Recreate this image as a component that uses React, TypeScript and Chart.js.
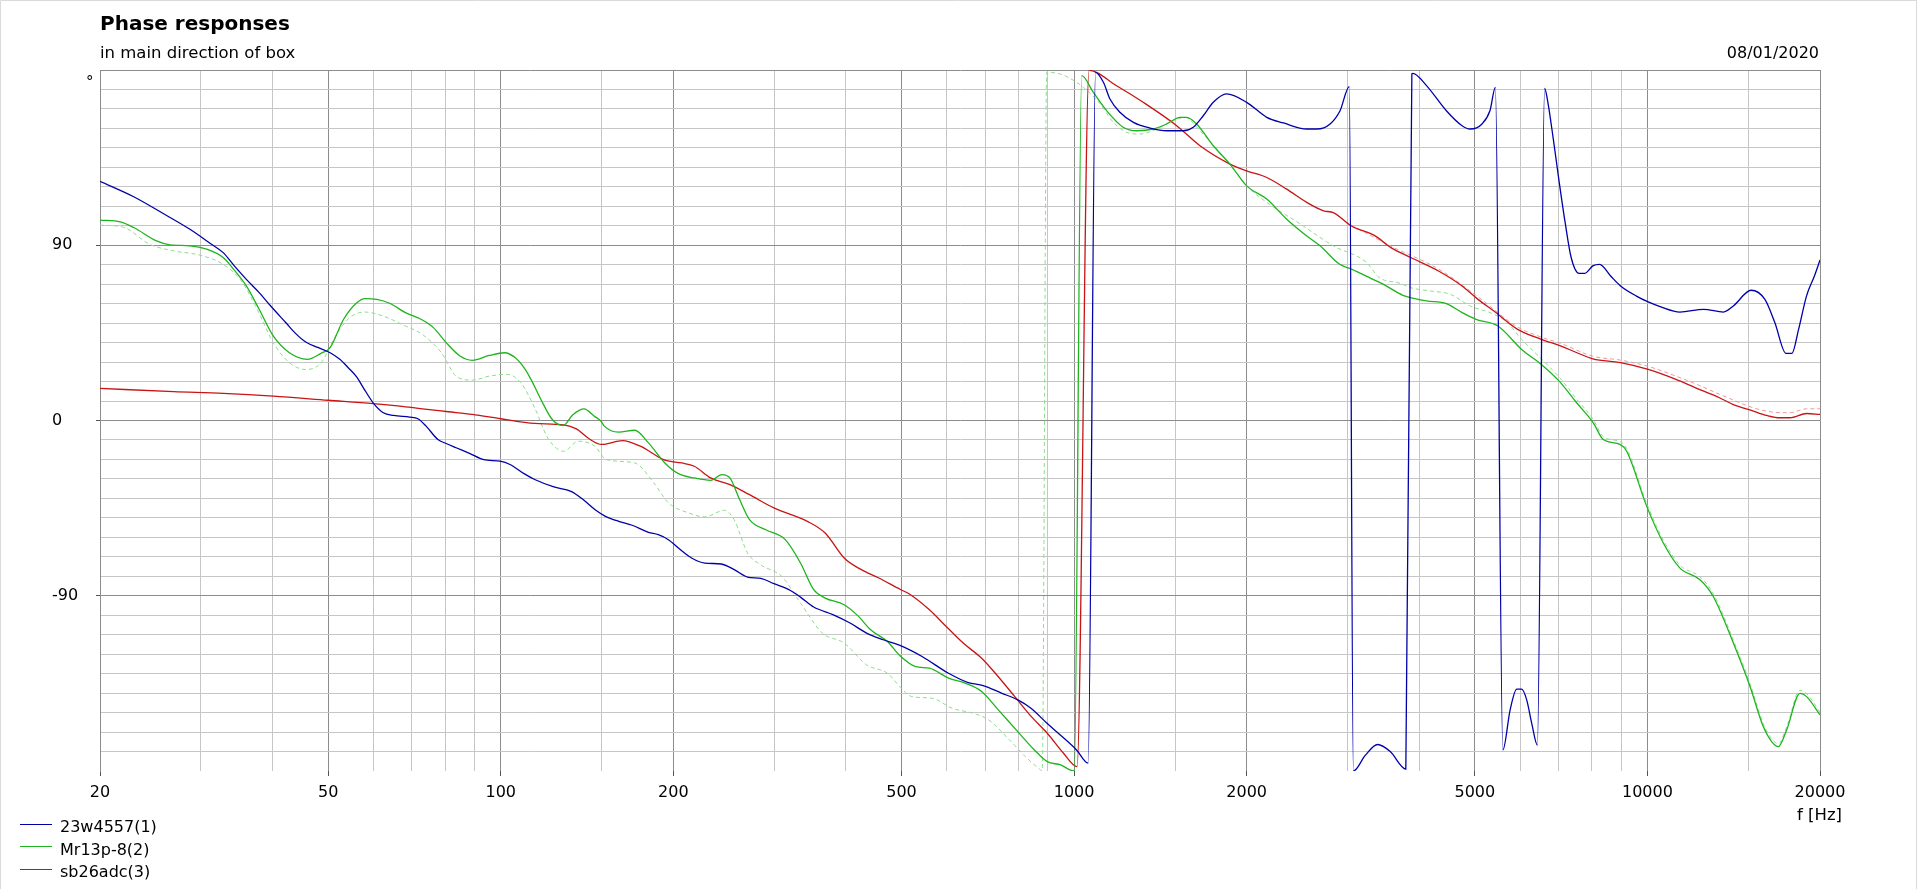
import React, { useEffect, useRef } from 'react';
import { Chart, registerables } from 'chart.js';

Chart.register(...registerables);

const TITLE = 'Phase responses';
const SUBTITLE = 'in main direction of box';
const DATE_TEXT = '08/01/2020';
const X_UNIT = 'f [Hz]';
const Y_UNIT = '°';

const seriesNames = ['23w4557(1)', 'Mr13p-8(2)', 'sb26adc(3)'];
const seriesColors = ['#0000a8', '#1eb41e', '#c81414'];
const dashedColors = ['#8fdc8f', '#eb9a9a'];

const xGridValues = [20, 30, 40, 50, 60, 70, 80, 90, 100, 150, 200, 300, 400, 500, 600, 700, 800, 900, 1000, 1500, 2000, 3000, 4000, 5000, 6000, 7000, 8000, 9000, 10000, 15000, 20000];
const xLabelValues = [20, 50, 100, 200, 500, 1000, 2000, 5000, 10000, 20000];
const yGridValues = [-180, -170, -160, -150, -140, -130, -120, -110, -100, -90, -80, -70, -60, -50, -40, -30, -20, -10, 0, 10, 20, 30, 40, 50, 60, 70, 80, 90, 100, 110, 120, 130, 140, 150, 160, 170, 180];
const yLabelValues = [-90, 0, 90];
const yMajorValues = [-90, 0, 90, 180];

// 23w4557(1)
const blueFreq = [20, 22.9, 25.6, 28.7, 31.3, 32.8, 34.3, 36, 37.9, 39.7, 42.2, 43.9, 45.7, 48.1, 50.4, 52.4, 54.2, 56.1, 57.6, 59.9, 62.4, 65, 69.4, 71.7, 74.1, 77.7, 80.3, 83.6, 88.4, 93.4, 99.7, 103.8, 109.8, 114.6, 123.8, 132.6, 139.2, 146.1, 152.3, 160.6, 169.5, 181, 188.3, 196.1, 204.1, 215.2, 226.9, 242.5, 255.4, 269.4, 284.1, 299.5, 320.1, 333.3, 351.4, 380.4, 406.6, 434.6, 464.6, 497, 543, 604, 654, 694, 747, 798, 841, 897, 946, 1010, 1058, 1090, 1125, 1155, 1202, 1269, 1357, 1451, 1551, 1614, 1680, 1749, 1845, 2000, 2168, 2318, 2546, 2651, 2796, 2910, 3020, 3070, 3220, 3384, 3560, 3790, 3883, 3898, 4118, 4460, 4751, 4906, 5146, 5313, 5430, 5596, 5762, 5917, 6036, 6158, 6284, 6428, 6618, 6690, 6853, 7018, 7186, 7362, 7598, 7780, 8032, 8254, 8628, 8978, 9568, 10032, 10524, 11396, 12534, 13570, 14122, 15166, 16030, 16686, 17446, 17864, 18352, 18944, 19556, 20000];
const bluePhase = [122.8, 114.9, 106.8, 98.2, 90.5, 86.2, 79.4, 72.5, 65.7, 58.8, 50.2, 44.6, 40.3, 37.4, 34.8, 31.4, 27.1, 22.3, 16.8, 9.1, 4, 2.6, 1.7, 0.9, -2.9, -9.8, -11.8, -14, -17, -20.1, -20.9, -22.6, -27.3, -30.3, -34.1, -36.4, -40.6, -45.8, -49.2, -51.8, -53.8, -57.4, -58.6, -61.2, -65.5, -70.6, -73.2, -73.7, -76.6, -80.4, -81.1, -83.8, -87.3, -90.7, -95.8, -99.8, -104, -109.2, -112.6, -115.5, -121.2, -129.8, -134.6, -136.1, -140, -143.5, -147.8, -155.5, -161.5, -169.2, -176, 178.8, 173.7, 165.1, 158.3, 153.1, 150.2, 148.8, 148.8, 150.6, 156.5, 163.4, 167.7, 163.4, 155.7, 152.8, 149.7, 149.7, 152.3, 159.1, 171.5, -180, -172, -166.4, -170, -179, 178, 178.3, 172, 159.1, 151.4, 149.7, 152.3, 159.1, 171.1, -169.2, -148.6, -138, -138, -143.5, -155.5, -166.7, 170.6, 165.1, 144.5, 122.3, 101.7, 83.7, 75.6, 75.6, 79.4, 80.2, 74.2, 69.1, 63.9, 60.9, 58.5, 55.7, 57.1, 55.7, 58.8, 66.9, 62.2, 50.2, 34.5, 34.5, 46.8, 63.9, 74.2, 82.4];

// Mr13p-8(2)
const greenFreq = [20, 21.7, 22.9, 25.1, 26.5, 28.7, 30.7, 32.8, 34.2, 36, 37.9, 40.1, 42.8, 46, 48.6, 50.4, 53.2, 56.1, 58, 60.8, 64, 68.2, 73, 76.3, 80.3, 84.9, 89.2, 95.5, 101.6, 105.9, 109.8, 112.9, 117.5, 123, 128.5, 133.6, 139.8, 145.6, 149.6, 151.6, 160.5, 171.3, 181, 193.3, 204.1, 217.6, 232.3, 243, 251, 261, 271.6, 290, 313.5, 333.3, 351.4, 368, 397.2, 420.8, 441.7, 472.6, 497, 529.6, 559.3, 604, 645.7, 689.9, 737.7, 797.6, 852.7, 897.9, 947.9, 985.7, 1001, 1031, 1080, 1140, 1218, 1286, 1375, 1451, 1530, 1572, 1636, 1749, 1870, 2000, 2168, 2349, 2546, 2686, 2906, 3046, 3298, 3460, 3746, 3930, 4118, 4460, 4754, 5025, 5486, 6034, 6532, 7017, 7526, 8046, 8377, 8958, 9202, 9973, 10660, 11396, 12352, 13028, 14122, 15100, 15926, 16470, 16916, 17492, 18454, 18954, 20000];
const greenPhase = [102.9, 102, 99.1, 92.2, 90.2, 89.7, 88, 83.7, 77.7, 69.1, 57.1, 43.4, 34.8, 31.4, 34.5, 37.4, 52, 60.5, 62.6, 62.2, 60.2, 55.4, 51.6, 47.7, 40, 33.1, 30.9, 33.4, 34.8, 32.3, 27.1, 21.1, 10.8, 0.5, -2.6, 3, 6, 2.2, -0.4, -2.9, -6, -5, -11.5, -21.8, -27.3, -29.5, -30.7, -27.8, -29.5, -40.6, -50.9, -56.1, -61.2, -73.2, -86.9, -91.2, -94.6, -100.6, -107.5, -113.5, -120.8, -126.4, -127.2, -132.3, -134.9, -139.2, -148.6, -159.8, -169.2, -175.2, -176.9, -179.5, -179.8, 177.1, 168.6, 159.1, 150.6, 148.8, 149.7, 152.3, 155.7, 155.7, 152.3, 141.1, 131.7, 120.5, 113.7, 103.4, 94.8, 89.7, 80.2, 77.7, 72.9, 70, 64.3, 62.6, 61.4, 60, 55.4, 51.9, 48.5, 36.5, 28.8, 20.2, 9.1, -1.2, -9.8, -12.3, -15.8, -44.1, -62.9, -75.8, -81.8, -90.4, -114.3, -136.6, -157.2, -164.9, -167.5, -158.9, -140.1, -141.8, -151.2];

// Mr13p-8 second curve (dashed)
const greenDashFreq = [20, 21.9, 24.4, 26.9, 29.9, 32.8, 35.3, 37.6, 40.1, 42.8, 45.7, 48.6, 51.5, 54.5, 58, 62.4, 68.2, 73, 78.8, 83.6, 89.2, 95.5, 102.4, 108.4, 114.6, 120.8, 128.8, 136.5, 145.9, 152.8, 171.3, 184.9, 196.1, 212.8, 226.9, 245.5, 255.3, 269.4, 284.1, 309.2, 333.3, 364, 397.2, 434.6, 472.6, 498, 521, 565, 613, 668, 710, 772, 823, 867, 880, 896, 945, 976, 1038, 1110, 1171, 1235, 1304, 1393, 1490, 1561, 1658, 1772, 1896, 2027, 2168, 2478, 2832, 3238, 3402, 3702, 3866, 4186, 4534, 4908, 5314, 5662, 6034, 6636, 7072, 7536, 8046, 8377, 8958, 9202, 9973, 10660, 11396, 12352, 13028, 14122, 15100, 15926, 16470, 16916, 17492, 18454, 18954, 20000];
const greenDashPhase = [100.3, 99.4, 90.5, 87.1, 84.9, 80.2, 71.6, 57.1, 40, 29.7, 26.2, 29.7, 43.4, 52.8, 55.7, 53.6, 48.5, 44.2, 34.8, 22.8, 20.7, 22.8, 23.7, 19.4, 6.5, -9, -15.8, -10.6, -13.2, -20.1, -21.8, -32, -42.3, -47.5, -49.5, -46.1, -50.9, -68, -74.1, -80.1, -93.8, -109.2, -114.3, -125.5, -129.8, -137, -141.8, -142.6, -147.8, -150.4, -153.8, -164.1, -172.7, -178.6, -179.8, 178.8, 178, 176.3, 171.1, 162.6, 153.1, 148, 147.1, 149.7, 154, 155.7, 148.8, 139.4, 129.1, 118.8, 112, 101, 89.7, 81.1, 73.5, 70.5, 68.2, 66.5, 64.8, 58.8, 55.4, 51.1, 41.7, 29.7, 21.1, 10.8, 0.5, -8.3, -10.8, -14.3, -42.6, -61.4, -74.3, -80.3, -88.9, -112.8, -135.1, -155.7, -163.4, -166, -157.4, -138.6, -140.3, -149.7];

// sb26adc(3)
const redFreq = [20, 26.9, 32.8, 40.1, 50, 59.9, 66.7, 73, 81, 89.2, 100, 114.6, 128.8, 135.5, 142.6, 149.9, 163.2, 175.2, 193.3, 206.9, 217.6, 232.3, 251, 271.6, 299.5, 342.6, 368, 397.2, 420.8, 456.5, 498, 515.3, 559.3, 598.5, 640.6, 689.9, 728.8, 788.2, 842.5, 897.9, 958.5, 1012, 1062, 1186, 1320, 1510, 1658, 1870, 2000, 2168, 2349, 2546, 2724, 2832, 3046, 3350, 3570, 3866, 4322, 4751, 5064, 5398, 5938, 6532, 7072, 7536, 8032, 8978, 10032, 11212, 12134, 13352, 14122, 15304, 16148, 17030, 17730, 18954, 20000];
const redPhase = [16.5, 14.8, 13.9, 12.5, 10.4, 8.7, 7.4, 6, 4.5, 3.1, 0.9, -1.5, -2.2, -4.3, -9.4, -12.3, -10.3, -13.2, -20.4, -21.8, -23.5, -29.5, -32.9, -38.1, -44.9, -51.8, -57.8, -70.6, -75.8, -80.9, -86.8, -89, -97.2, -105.8, -114.3, -122.1, -129.8, -141.8, -152.1, -160.6, -170.9, -177.8, 179.8, 171.9, 163.4, 151.4, 141.1, 131.7, 128.2, 124.8, 118.8, 112, 107.7, 106.8, 99.9, 94.8, 88.8, 83.7, 76.8, 69.1, 62.2, 56.2, 46.8, 41.7, 38.2, 34.8, 31.7, 29.7, 26.2, 21.1, 16.8, 11.7, 8.2, 4.8, 2.6, 1.4, 1.4, 3.6, 3.1];

// sb26adc second curve (dashed)
const redDashFreq = [3046, 3570, 4322, 5064, 5938, 6532, 7072, 8032, 8978, 10032, 11212, 12134, 13352, 14122, 15304, 16148, 17030, 17730, 18954, 20000];
const redDashPhase = [100.4, 89.5, 77.8, 63.5, 48, 42.8, 39.5, 33, 31, 27.8, 22.8, 18.8, 13.5, 10.5, 6.5, 4.8, 4, 4, 6, 6];

const FONT = '"DejaVu Sans", Verdana, sans-serif';
const MAJOR_GRID = '#8c8c8c';
const MINOR_GRID = '#c6c6c6';

const toPoints = (f: number[], p: number[]) => f.map((v, i) => ({ x: v, y: p[i] }));

const overlayPlugin = {
  id: 'overlay',
  afterDraw(chart: any) {
    const ctx = chart.ctx as CanvasRenderingContext2D;
    ctx.save();
    ctx.strokeStyle = '#dadada';
    ctx.lineWidth = 1;
    ctx.beginPath();
    ctx.moveTo(0.5, 889);
    ctx.lineTo(0.5, 0.5);
    ctx.lineTo(1916.5, 0.5);
    ctx.lineTo(1916.5, 889);
    ctx.stroke();

    ctx.fillStyle = '#000';
    ctx.textBaseline = 'alphabetic';
    ctx.textAlign = 'left';
    ctx.font = `bold 20px ${FONT}`;
    ctx.fillText(TITLE, 100, 29.5);
    ctx.font = `16.5px ${FONT}`;
    ctx.fillText(SUBTITLE, 100, 58);
    ctx.font = `16px ${FONT}`;
    ctx.textAlign = 'right';
    ctx.fillText(DATE_TEXT, 1819, 57.5);
    ctx.textAlign = 'left';
    ctx.font = `16.5px ${FONT}`;
    ctx.fillText(X_UNIT, 1797, 820);
    ctx.font = `15px ${FONT}`;
    ctx.fillText(Y_UNIT, 86, 87);

    // legend
    ctx.font = `16px ${FONT}`;
    const baselines = [832, 854.5, 877];
    seriesNames.forEach((name, i) => {
      const ly = Math.round(baselines[i] - 8.5) + 0.5;
      ctx.strokeStyle = seriesColors[i];
      ctx.lineWidth = 1;
      ctx.beginPath();
      ctx.moveTo(20, ly);
      ctx.lineTo(52, ly);
      ctx.stroke();
      ctx.fillStyle = '#000';
      ctx.fillText(name, 60, baselines[i]);
    });
    ctx.restore();
  },
};

const lineStyle = { pointRadius: 0, cubicInterpolationMode: 'monotone', fill: false };

export default function App() {
  const ref = useRef<HTMLCanvasElement | null>(null);
  useEffect(() => {
    document.body.style.margin = '0';
    const canvas = ref.current;
    if (!canvas) return;
    const chart = new Chart(canvas, {
      type: 'line',
      data: {
        datasets: [
          { label: seriesNames[0], data: toPoints(blueFreq, bluePhase), borderColor: seriesColors[0], borderWidth: 1.3, ...lineStyle },
          { label: seriesNames[1], data: toPoints(greenFreq, greenPhase), borderColor: seriesColors[1], borderWidth: 1.3, ...lineStyle },
          { label: seriesNames[2], data: toPoints(redFreq, redPhase), borderColor: seriesColors[2], borderWidth: 1.3, ...lineStyle },
          { label: 'Mr13p-8 (2nd)', data: toPoints(greenDashFreq, greenDashPhase), borderColor: dashedColors[0], borderWidth: 1, borderDash: [4, 3], ...lineStyle },
          { label: 'sb26adc (2nd)', data: toPoints(redDashFreq, redDashPhase), borderColor: dashedColors[1], borderWidth: 1, borderDash: [4, 3], ...lineStyle },
        ],
      },
      options: {
        responsive: false,
        animation: false,
        devicePixelRatio: 1,
        layout: { padding: { left: 52, top: 70, right: 100, bottom: 0 } },
        plugins: { legend: { display: false }, tooltip: { enabled: false }, title: { display: false } },
        scales: {
          x: {
            type: 'logarithmic',
            min: 20,
            max: 20000,
            afterBuildTicks: (s: any) => { s.ticks = xGridValues.map((v) => ({ value: v })); },
            afterFit: (s: any) => { s.height = 118; },
            ticks: {
              autoSkip: false,
              maxRotation: 0,
              minRotation: 0,
              padding: 7,
              color: '#000',
              font: { family: FONT, size: 16 },
              callback: (v: any) => (xLabelValues.includes(Number(v)) ? String(v) : ''),
            },
            grid: {
              color: (c: any) => (xLabelValues.includes(c.tick?.value) ? MAJOR_GRID : MINOR_GRID),
              tickColor: (c: any) => (xLabelValues.includes(c.tick?.value) ? '#555' : 'rgba(0,0,0,0)'),
              tickLength: 5,
              lineWidth: 1,
            },
            border: { display: false },
          },
          y: {
            type: 'linear',
            min: -180,
            max: 180,
            afterBuildTicks: (s: any) => { s.ticks = yGridValues.map((v) => ({ value: v })); },
            afterFit: (s: any) => { s.width = 48; },
            ticks: {
              autoSkip: false,
              crossAlign: 'far',
              color: '#000',
              font: { family: FONT, size: 16 },
              callback: (v: any) => (yLabelValues.includes(Number(v)) ? String(v) : ''),
            },
            grid: {
              color: (c: any) => {
                const v = c.tick?.value;
                if (v === -180) return 'rgba(0,0,0,0)';
                return yMajorValues.includes(v) ? MAJOR_GRID : MINOR_GRID;
              },
              tickColor: (c: any) => (yLabelValues.includes(c.tick?.value) ? '#555' : 'rgba(0,0,0,0)'),
              tickLength: 4,
              lineWidth: 1,
            },
            border: { display: true, color: MAJOR_GRID },
          },
        },
      },
      plugins: [overlayPlugin],
    } as any);
    return () => chart.destroy();
  }, []);

  return (
    <div style={{ position: 'absolute', left: 0, top: 0, width: 1920, height: 889, background: '#fff' }}>
      <canvas ref={ref} width={1920} height={889} style={{ display: 'block', width: 1920, height: 889 }} />
    </div>
  );
}
